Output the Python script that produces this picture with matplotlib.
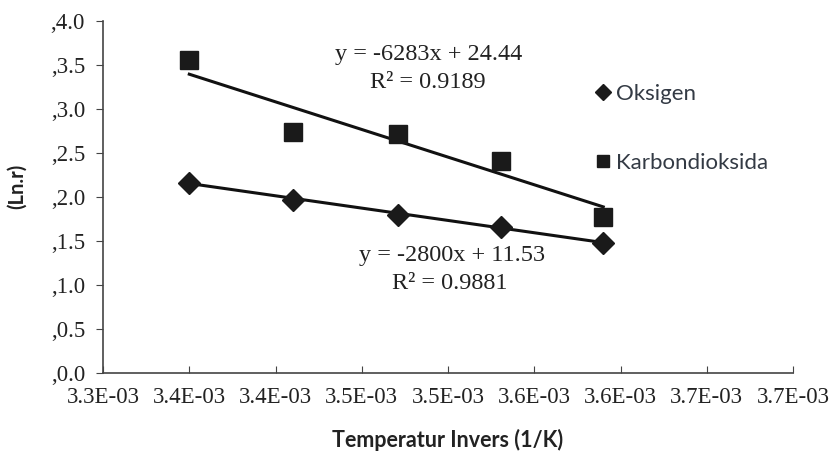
import numpy as np
import matplotlib.pyplot as plt

plt.rcParams["font.family"] = ["Liberation Serif", "DejaVu Serif"]

# data
x_invT = [3.350e-3, 3.410e-3, 3.471e-3, 3.531e-3, 3.590e-3]
ln_r_oksigen = [2.16, 1.96, 1.79, 1.66, 1.47]
ln_r_co2 = [3.55, 2.74, 2.71, 2.40, 1.77]

# trendline coefficients shown on the chart
fit_oksigen = [-2800, 11.53]
fit_co2 = [-6283, 24.44]
eq_oksigen = ["y = -2800x + 11.53", "R\u00b2 = 0.9881"]
eq_co2 = ["y = -6283x + 24.44", "R\u00b2 = 0.9189"]

x_ticks = np.arange(0, 9) * 0.05e-3 + 3.30e-3
x_ticklabels = ["3.3E-03", "3.4E-03", "3.4E-03", "3.5E-03", "3.5E-03",
                "3.6E-03", "3.6E-03", "3.7E-03", "3.7E-03"]
y_ticks = np.arange(0, 9) * 0.5
y_ticklabels = [",0.0", ",0.5", ",1.0", ",1.5", ",2.0", ",2.5", ",3.0",
                ",3.5", ",4.0"]

sans = "Lato"
txt = "#222222"

fig = plt.figure(figsize=(8.35, 4.55), dpi=100)
ax = fig.add_axes([0.1234, 0.181, 0.8263, 0.7735])

ax.plot(x_invT, ln_r_oksigen, linestyle="none", marker="D", markersize=11,
        color="#1a1a1a", label="Oksigen", zorder=3)
ax.plot(x_invT, ln_r_co2, linestyle="none", marker="s", markersize=13,
        color="#1a1a1a", label="Karbondioksida", zorder=3)

# trendlines
xs = np.array([x_invT[0], x_invT[-1]])
ax.plot(xs, np.polyval(fit_oksigen, xs), color="#111111", lw=2.2, zorder=2)
ax.plot(xs, np.polyval(fit_co2, xs), color="#111111", lw=2.2, zorder=2)

ax.set_xlim(3.30e-3, 3.70e-3)
ax.set_ylim(0, 4.0)
ax.set_xticks(x_ticks, x_ticklabels)
ax.set_yticks(y_ticks, y_ticklabels)

for s in ["top", "right"]:
    ax.spines[s].set_visible(False)
for s in ["left", "bottom"]:
    ax.spines[s].set_color("#444444")
    ax.spines[s].set_linewidth(1.2)

ax.tick_params(axis="x", direction="in", length=5, pad=10, color="#444444",
               labelsize=16.5, labelcolor=txt)
ax.tick_params(axis="y", direction="out", length=5, pad=8, color="#444444",
               labelsize=16.5, labelcolor=txt)

ax.set_xlabel("Temperatur Invers (1/K)", fontfamily=sans, fontweight="bold",
              fontsize=15.5, color=txt)
ax.xaxis.set_label_coords(0.5, -0.16)
ax.set_ylabel("(Ln.r)", fontfamily=sans, fontweight="bold", fontsize=14.5,
              color=txt)
ax.yaxis.set_label_coords(-0.11, 0.528)

# equations
eq_kw = dict(transform=ax.transAxes, ha="center", va="center", fontsize=17.5,
             color=txt)
ax.text(0.472, 0.903, eq_co2[0], **eq_kw)
ax.text(0.471, 0.823, eq_co2[1], **eq_kw)
ax.text(0.506, 0.334, eq_oksigen[0], **eq_kw)
ax.text(0.503, 0.254, eq_oksigen[1], **eq_kw)

leg = ax.legend(loc="upper left", bbox_to_anchor=(0.69, 0.86),
                bbox_transform=fig.transFigure, frameon=False,
                handlelength=0.6, handletextpad=0.3, labelspacing=2.2,
                prop={"family": sans, "size": 16}, markerscale=0.7)
for t in leg.get_texts():
    t.set_color("#333a44")

fig.savefig("out.png", dpi=100)
